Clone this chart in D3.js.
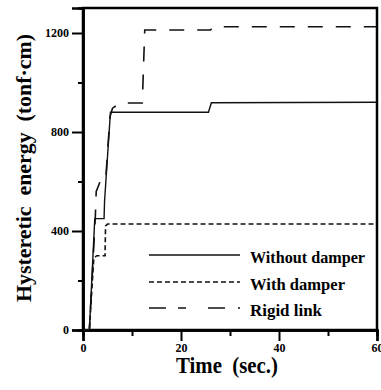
<!DOCTYPE html>
<html><head><meta charset="utf-8">
<script src="https://cdn.jsdelivr.net/npm/d3@7"></script>
<style>body{margin:0;background:#fff}svg{display:block}</style>
</head><body>
<script>
// Data
const tWithout = [0, 1.3, 2.4, 4.3, 4.4, 5.6, 25.6, 26.2, 60];
const eWithout = [0, 0, 450, 450, 520, 880, 880, 918, 920];
const tWith = [0, 1.3, 2.2, 2.8, 4.5, 4.6, 5.0, 60];
const eWith = [0, 0, 290, 300, 300, 420, 428, 428];
const tRigid = [0, 1.3, 2.5, 2.7, 3.5, 4.6, 5.5, 6.0, 7.4, 12.1, 12.6, 26.0, 26.6, 60];
const eRigid = [0, 0, 450, 560, 600, 600, 860, 895, 917, 917, 1212, 1212, 1225, 1225];
const seriesNames = ["Without damper", "With damper", "Rigid link"];
const xTicks = [0, 20, 40, 60];
const xMinor = [10, 30, 50];
const yTicks = [0, 400, 800, 1200];
const yMinor = [200, 600, 1000];

const W = 381, H = 390;
const m = {l: 83, r: 4, t: 8, b: 60};
const svg = d3.select("body").append("svg").attr("width", W).attr("height", H);
const x = d3.scaleLinear().domain([0, 60]).range([m.l, W - m.r]);
const y = d3.scaleLinear().domain([0, 1301]).range([H - m.b, m.t]);
const font = "'Liberation Serif','Times New Roman',serif";

// frame
svg.append("rect").attr("x", x(0)).attr("y", y(1301)).attr("width", x(60) - x(0)).attr("height", y(0) - y(1301))
  .attr("fill", "none").attr("stroke", "#000").attr("stroke-width", 2.5);

// axes
const xAx = svg.append("g").attr("transform", `translate(0,${y(0)})`)
  .call(d3.axisBottom(x).tickValues(xTicks).tickSize(11).tickPadding(2).tickFormat(d3.format("d")));
const xAxMin = svg.append("g").attr("transform", `translate(0,${y(0)})`)
  .call(d3.axisBottom(x).tickValues(xMinor).tickSize(6).tickFormat(""));
const yAx = svg.append("g").attr("transform", `translate(${x(0)},0)`)
  .call(d3.axisLeft(y).tickValues(yTicks).tickSize(11).tickPadding(3).tickFormat(d3.format("d")));
const yAxMin = svg.append("g").attr("transform", `translate(${x(0)},0)`)
  .call(d3.axisLeft(y).tickValues(yMinor).tickSize(5).tickFormat(""));
[xAx, xAxMin, yAx, yAxMin].forEach(g => {
  g.select(".domain").attr("stroke-width", 2.5);
  g.selectAll(".tick line").attr("stroke-width", 2);
  g.selectAll("text").attr("font-family", font).attr("font-weight", "bold").attr("font-size", 12).attr("fill", "#000");
});

// lines
const line = d3.line().x(d => x(d[0])).y(d => y(d[1]));
const series = [
  {name: seriesNames[0], data: d3.zip(tWithout, eWithout), dash: null, w: 1.4},
  {name: seriesNames[1], data: d3.zip(tWith, eWith), dash: "5,3", w: 1.6},
  {name: seriesNames[2], data: d3.zip(tRigid, eRigid), dash: "15,13", w: 1.6}
];
series.forEach(s => {
  svg.append("path").datum(s.data).attr("d", line).attr("fill", "none")
    .attr("stroke", "#111").attr("stroke-width", s.w).attr("stroke-dasharray", s.dash);
});

// legend
const legY = [255, 282, 308];
const legLen = [115, 95, 72];
const legDash = [null, "5,3", "17,12,8,22,17,13,2,20"];
series.forEach((s, i) => {
  svg.append("line").attr("x1", 149).attr("x2", 240).attr("y1", legY[i]).attr("y2", legY[i])
    .attr("stroke", "#111").attr("stroke-width", s.w).attr("stroke-dasharray", legDash[i]);
  svg.append("text").attr("x", 250).attr("y", legY[i] + 8).text(s.name)
    .attr("font-family", font).attr("font-weight", "bold").attr("font-size", 17)
    .attr("textLength", legLen[i]).attr("lengthAdjust", "spacingAndGlyphs");
});

// axis titles
svg.append("text").attr("x", 176).attr("y", 373).text("Time  (sec.)")
  .attr("font-family", font).attr("font-weight", "bold").attr("font-size", 23)
  .attr("textLength", 102).attr("lengthAdjust", "spacingAndGlyphs").style("white-space", "pre");
svg.append("text").attr("transform", "translate(31,302) rotate(-90)").text("Hysteretic  energy  (tonf·cm)")
  .attr("font-family", font).attr("font-weight", "bold").attr("font-size", 21)
  .attr("textLength", 268).attr("lengthAdjust", "spacingAndGlyphs").style("white-space", "pre");
</script>
</body></html>
